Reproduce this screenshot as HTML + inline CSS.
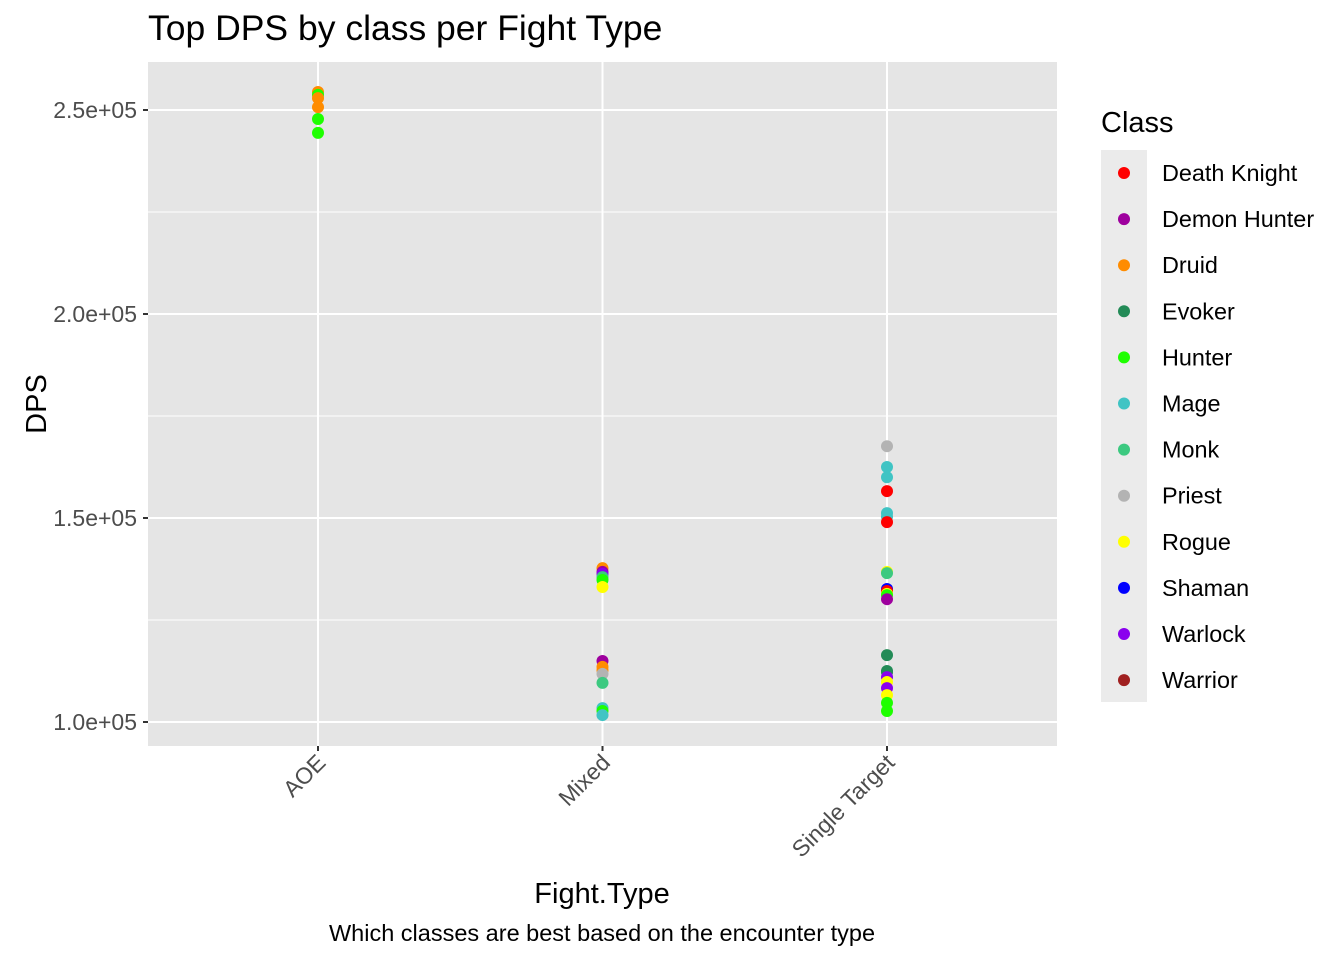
<!DOCTYPE html>
<html><head><meta charset="utf-8"><style>
body{margin:0;background:#fff;font-family:"Liberation Sans",Arial,sans-serif}
svg text{font-family:"Liberation Sans",Arial,sans-serif}
</style></head><body>
<svg id="chart" width="1344" height="960"></svg>
<script>
const categories=["AOE","Mixed","Single Target"];
const classes=["Death Knight","Demon Hunter","Druid","Evoker","Hunter","Mage","Monk","Priest","Rogue","Shaman","Warlock","Warrior"];
const classColors=["#FF0000","#9E009E","#FF8C00","#238B57","#1EFF00","#40C4C4","#3CC980","#B3B3B3","#FFFF00","#0000FF","#8A00EE","#A02020"];
const yTicks=[100000,150000,200000,250000];
const yTickLabels=["1.0e+05","1.5e+05","2.0e+05","2.5e+05"];
const pointCat=[0,0,0,0,0,0, 1,1,1,1,1,1, 1,1,1,1,1, 1,1,1, 2,2,2,2,2,2,2,2,2,2,2,2,2,2, 2,2,2,2,2,2,2,2,2];
const pointClass=["Druid","Hunter","Druid","Druid","Hunter","Hunter",
"Druid","Demon Hunter","Warlock","Monk","Hunter","Rogue",
"Demon Hunter","Druid","Druid","Priest","Monk",
"Mage","Hunter","Mage",
"Priest","Mage","Mage","Death Knight","Mage","Mage","Death Knight","Rogue","Monk","Shaman","Death Knight","Rogue","Hunter","Demon Hunter",
"Evoker","Evoker","Evoker","Warlock","Rogue","Warlock","Rogue","Hunter","Hunter"];
const pointDPS=[254400,253700,252900,250700,247800,244400,
137700,136800,136300,135500,134800,133100,
114950,113500,112700,111800,109600,
103400,102700,101700,
167600,162500,160000,156600,151200,150300,149000,136800,136500,132600,132100,131400,131100,130100,
116400,112500,112200,111000,109800,108300,106600,104700,102700];

const svg=document.getElementById('chart');
const NS='http://www.w3.org/2000/svg';
function mk(t,a,p){const e=document.createElementNS(NS,t);for(const k in a)e.setAttribute(k,a[k]);(p||svg).appendChild(e);return e;}
const L=148,R=1057,T=62,B=746;
const y=v=>722-(v-100000)/50000*204;
const x=i=>318+i*284.5;
const bg=mk('rect',{x:L,y:T,width:R-L,height:B-T,fill:'#E5E5E5'});


for(let i=0;i<yTicks.length-1;i++){
 const m=(yTicks[i]+yTicks[i+1])/2;
 mk('line',{x1:L,x2:R,y1:y(m),y2:y(m),stroke:'#fff','stroke-width':1});
}
yTicks.forEach((v,i)=>{
 const g=mk('line',{x1:L,x2:R,y1:y(v),y2:y(v),stroke:'#fff','stroke-width':2});
 
 
 mk('line',{x1:L-5,x2:L,y1:y(v),y2:y(v),stroke:'#333','stroke-width':2});
 const t=mk('text',{x:L-11,y:y(v)+8,'text-anchor':'end','font-size':23,fill:'#4D4D4D'});
 t.textContent=yTickLabels[i];
 
 
});
categories.forEach((c,i)=>{
 mk('line',{x1:x(i),x2:x(i),y1:T,y2:B,stroke:'#fff','stroke-width':2});
 mk('line',{x1:x(i),x2:x(i),y1:B,y2:B+5,stroke:'#333','stroke-width':2});
 const t=mk('text',{x:x(i)+9,y:B+18,'text-anchor':'end','font-size':23,fill:'#4D4D4D',transform:`rotate(-45 ${x(i)+9} ${B+18})`});
 t.textContent=c;
 
 
});
pointDPS.forEach((v,i)=>{
 const c=mk('circle',{cx:x(pointCat[i]),cy:y(v),r:6,fill:classColors[classes.indexOf(pointClass[i])]});
 
 
});
let t=mk('text',{x:148,y:40,'font-size':35.5,fill:'#000'});t.textContent='Top DPS by class per Fight Type';


t=mk('text',{x:602,y:903,'font-size':29,'text-anchor':'middle',fill:'#000'});t.textContent='Fight.Type';


t=mk('text',{x:602,y:941,'font-size':23.5,'text-anchor':'middle',fill:'#000'});t.textContent='Which classes are best based on the encounter type';


t=mk('text',{x:46,y:404,'font-size':29,'text-anchor':'middle',fill:'#000',transform:'rotate(-90 46 404)'});t.textContent='DPS';


t=mk('text',{x:1101,y:132,'font-size':29,fill:'#000'});t.textContent='Class';


const lk=mk('rect',{x:1101,y:150,width:46,height:552,fill:'#EBEBEB'});


classes.forEach((c,i)=>{
 const yy=173+i*46.1;
 const g=mk('g',{});
 
 
 mk('circle',{cx:1124,cy:yy,r:6,fill:classColors[i]},g);
 const tt=mk('text',{x:1162,y:yy+8,'font-size':23.4,fill:'#000'},g);tt.textContent=c;
});
</script>
</body></html>
